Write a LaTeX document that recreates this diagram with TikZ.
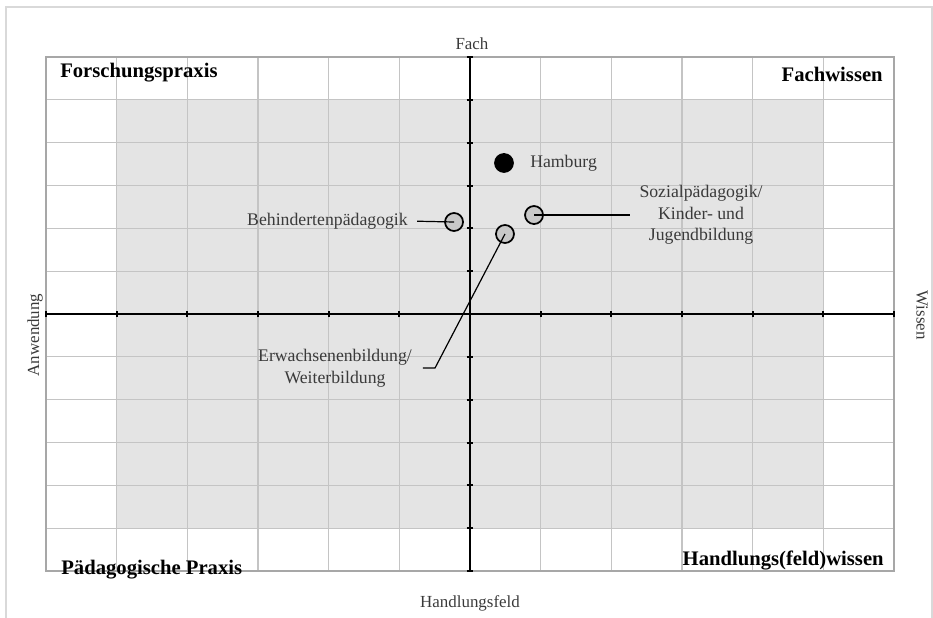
\documentclass[tikz,border=0pt]{standalone}
\usepackage{fontspec}
\setmainfont{Liberation Serif}
\usepackage{tikz}

\definecolor{rahmen}{HTML}{D9D9D9}
\definecolor{gitter}{HTML}{C4C4C4}
\definecolor{feld}{HTML}{E4E4E4}
\definecolor{punkt}{HTML}{C8C8C8}
\definecolor{schrift}{HTML}{3A3A3A}

\tikzset{
    achse/.style={line width=1.5pt, black},
    ecke/.style={font=\fontsize{15.5}{18}\selectfont\bfseries, inner sep=0pt},
    beschr/.style={font=\fontsize{13.3}{16.1}\selectfont, text=schrift, align=center, inner sep=0pt},
    achsbeschr/.style={font=\fontsize{12.7}{15}\selectfont, text=schrift, inner sep=0pt},
    ort/.style={circle, draw=black, line width=1.3pt, fill=punkt, minimum size=13.5pt, inner sep=0pt},
    linie/.style={line width=0.9pt, black}
}

\begin{document}
\begin{tikzpicture}[x=53pt, y=32.125pt]
    \useasboundingbox (-6.651,-7.097) rectangle (6.552,7.331);
    \draw[rahmen, line width=1.5pt] (-6.566,-7.097) -- (-6.566,7.168) -- (6.537,7.168) -- (6.537,-7.097);

    \fill[feld] (-5,-5) rectangle (5,5);
    \foreach \i in {-5,...,5} {
        \draw[gitter, line width=0.9pt] (\i,-6) -- (\i,6);
        \draw[gitter, line width=0.9pt] (-6,\i) -- (6,\i);
    }
    \draw[gitter!85!black, line width=1.5pt] (-6,-6) rectangle (6,6);

    \draw[achse] (0,-6) -- (0,6);
    \draw[achse] (-6,0) -- (6,0);
    \foreach \i in {-6,...,6} {
        \draw[achse] (\i,0) ++(0,-2.6pt) -- ++(0,5.2pt);
        \draw[achse] (0,\i) ++(-2.6pt,0) -- ++(5.2pt,0);
    }

    \node[achsbeschr, anchor=base] (fach) at (0.028,6.164) {Fach};
    \node[achsbeschr] (handlungsfeld) at (0,-6.748) {Handlungsfeld};
    \node[achsbeschr, rotate=90] (anwendung) at (-6.155,-0.49) {Anwendung};
    \node[achsbeschr, rotate=-90] (wissen) at (6.396,-0.023) {Wissen};

    \node[ecke, anchor=base west] (forschung) at (-5.802,5.510) {Forschungspraxis};
    \node[ecke, anchor=base east] (fachwissen) at (5.844,5.417) {Fachwissen};
    \node[ecke, anchor=base west] (praxis) at (-5.787,-6.070) {Pädagogische Praxis};
    \node[ecke, anchor=base east] (handlungswissen) at (5.858,-5.860) {Handlungs(feld)wissen};

    \node[ort, fill=black] (hamburg) at (0.481,3.526) {};
    \node[ort] (behind) at (-0.226,2.148) {};
    \node[ort] (soz) at (0.906,2.311) {};
    \node[ort] (erw) at (0.495,1.868) {};

    \node[beschr, anchor=west] (lhamburg) at (0.849,3.526) {Hamburg};
    \node[beschr, anchor=east] (lbehind) at (-0.877,2.171) {Behindertenpädagogik};
    \node[beschr] (lsoz) at (3.27,2.311) {Sozialpädagogik/\\Kinder- und\\Jugendbildung};
    \node[beschr] (lerw) at (-1.91,-1.27) {Erwachsenenbildung/\\Weiterbildung};

    \coordinate (knick) at (-0.495,-1.261);
    \draw[linie, shorten <=6.75pt] (lbehind.east) -- (behind.center);
    \draw[linie, shorten >=6.75pt] (soz.center) -- (soz.center -| lsoz.west);
    \draw[linie, shorten >=8pt] (erw.center) -- (knick) -- (knick -| lerw.east);
\end{tikzpicture}
\end{document}
